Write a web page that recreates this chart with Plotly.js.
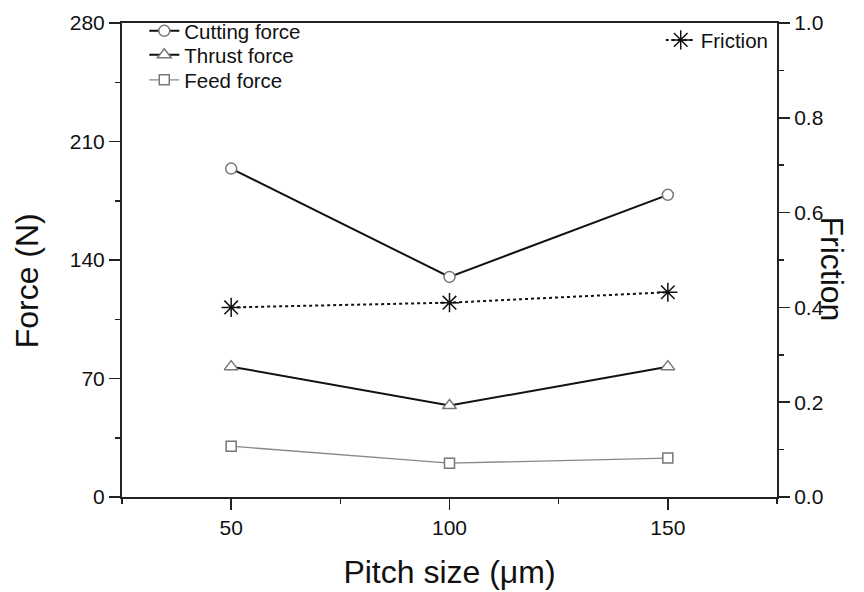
<!DOCTYPE html>
<html><head><meta charset="utf-8">
<script src="https://cdn.plot.ly/plotly-3.0.1.min.js"></script>
<style>html,body{margin:0;padding:0;background:#fff}#chart{width:864px;height:592px}</style>
</head><body><div id="chart"></div>
<script>
const pitch = [50, 100, 150];
const cuttingForce = [194, 130, 178.5];
const thrustForce = [77, 54, 77];
const feedForce = [30, 20, 23];
const friction = [0.40, 0.41, 0.432];
const forceTicks = [0, 70, 140, 210, 280];
const frictionTicks = [0, 0.2, 0.4, 0.6, 0.8, 1.0];
const xTicks = [50, 100, 150];

const FONT = '"Liberation Sans", Arial, Helvetica, sans-serif';

const traces = [
  {x: pitch, y: cuttingForce, name: 'Cutting force', type: 'scatter', mode: 'lines+markers',
   line: {color: '#111', width: 2}, marker: {symbol: 'circle', size: 11, color: '#fff', line: {color: '#777', width: 1.5}}, legend: 'legend'},
  {x: pitch, y: thrustForce, name: 'Thrust force', type: 'scatter', mode: 'lines+markers',
   line: {color: '#111', width: 2}, marker: {symbol: 'triangle-up', size: 12, color: '#fff', line: {color: '#777', width: 1.5}}, legend: 'legend3'},
  {x: pitch, y: feedForce, name: 'Feed force', type: 'scatter', mode: 'lines+markers',
   line: {color: '#888', width: 1.3}, marker: {symbol: 'square', size: 10, color: '#fff', line: {color: '#777', width: 1.5}}, legend: 'legend4'},
  {x: pitch, y: friction, name: 'Friction', type: 'scatter', mode: 'lines+markers', yaxis: 'y2',
   line: {color: '#111', width: 2, dash: 'dot'}, marker: {symbol: 'asterisk-open', size: 16, color: '#111', line: {color: '#222', width: 1.5}}, legend: 'legend2'}
];

function leg(x, y, xanchor) {
  return {x: x, y: y, xanchor: xanchor, yanchor: 'middle',
    bgcolor: 'rgba(0,0,0,0)', borderwidth: 0,
    font: {size: 20.5, family: FONT, color: '#111'}, itemwidth: 30};
}

const layout = {
  width: 864, height: 592,
  margin: {l: 122, r: 87, t: 22, b: 95},
  paper_bgcolor: '#fff', plot_bgcolor: '#fff',
  font: {family: FONT, color: '#111'},
  showlegend: true,
  xaxis: {
    range: [25, 175], tickvals: xTicks, ticktext: xTicks.map(String),
    ticks: 'outside', ticklen: 11, tickwidth: 1.5, tickcolor: '#222',
    showline: true, linecolor: '#222', linewidth: 2, mirror: true,
    showgrid: false, zeroline: false,
    tickfont: {size: 21, family: FONT, color: '#111'},
    minor: {ticks: 'outside', ticklen: 5, tick0: 25, dtick: 25, tickcolor: '#222', tickwidth: 1.5, showgrid: false},
    title: {text: 'Pitch size (\u03bcm)', font: {size: 32, family: FONT, color: '#111'}, standoff: 22}
  },
  yaxis: {
    range: [0, 280], tickvals: forceTicks, ticktext: forceTicks.map(String),
    ticks: 'outside', ticklen: 11, tickwidth: 1.5, tickcolor: '#222',
    showline: true, linecolor: '#222', linewidth: 2,
    showgrid: false, zeroline: false,
    tickfont: {size: 21, family: FONT, color: '#111'},
    minor: {ticks: 'outside', ticklen: 5, tick0: 0, dtick: 35, tickcolor: '#222', tickwidth: 1.5, showgrid: false}
  },
  yaxis2: {
    range: [0, 1], overlaying: 'y', side: 'right', anchor: 'x',
    tickvals: frictionTicks, ticktext: frictionTicks.map(v => v.toFixed(1)),
    ticks: 'outside', ticklen: 11, tickwidth: 1.5, tickcolor: '#222',
    showline: true, linecolor: '#222', linewidth: 2,
    showgrid: false, zeroline: false,
    tickfont: {size: 21, family: FONT, color: '#111'},
    minor: {ticks: 'outside', ticklen: 5, tick0: 0, dtick: 0.1, tickcolor: '#222', tickwidth: 1.5, showgrid: false}
  },
  legend: leg(0.034, 0.981, 'left'),
  legend3: leg(0.034, 0.9305, 'left'),
  legend4: leg(0.034, 0.878, 'left'),
  legend2: leg(0.995, 0.962, 'right'),
  annotations: [
    {text: 'Force (N)', xref: 'paper', yref: 'paper', x: -0.145, y: 0.455, showarrow: false,
     textangle: -90, font: {size: 32, family: FONT, color: '#111'}, xanchor: 'center', yanchor: 'middle'},
    {text: 'Friction', xref: 'paper', yref: 'paper', x: 1.084, y: 0.482, showarrow: false,
     textangle: 90, font: {size: 32, family: FONT, color: '#111'}, xanchor: 'center', yanchor: 'middle'}
  ]
};

Plotly.newPlot('chart', traces, layout, {displayModeBar: false, staticPlot: true});
</script></body></html>
